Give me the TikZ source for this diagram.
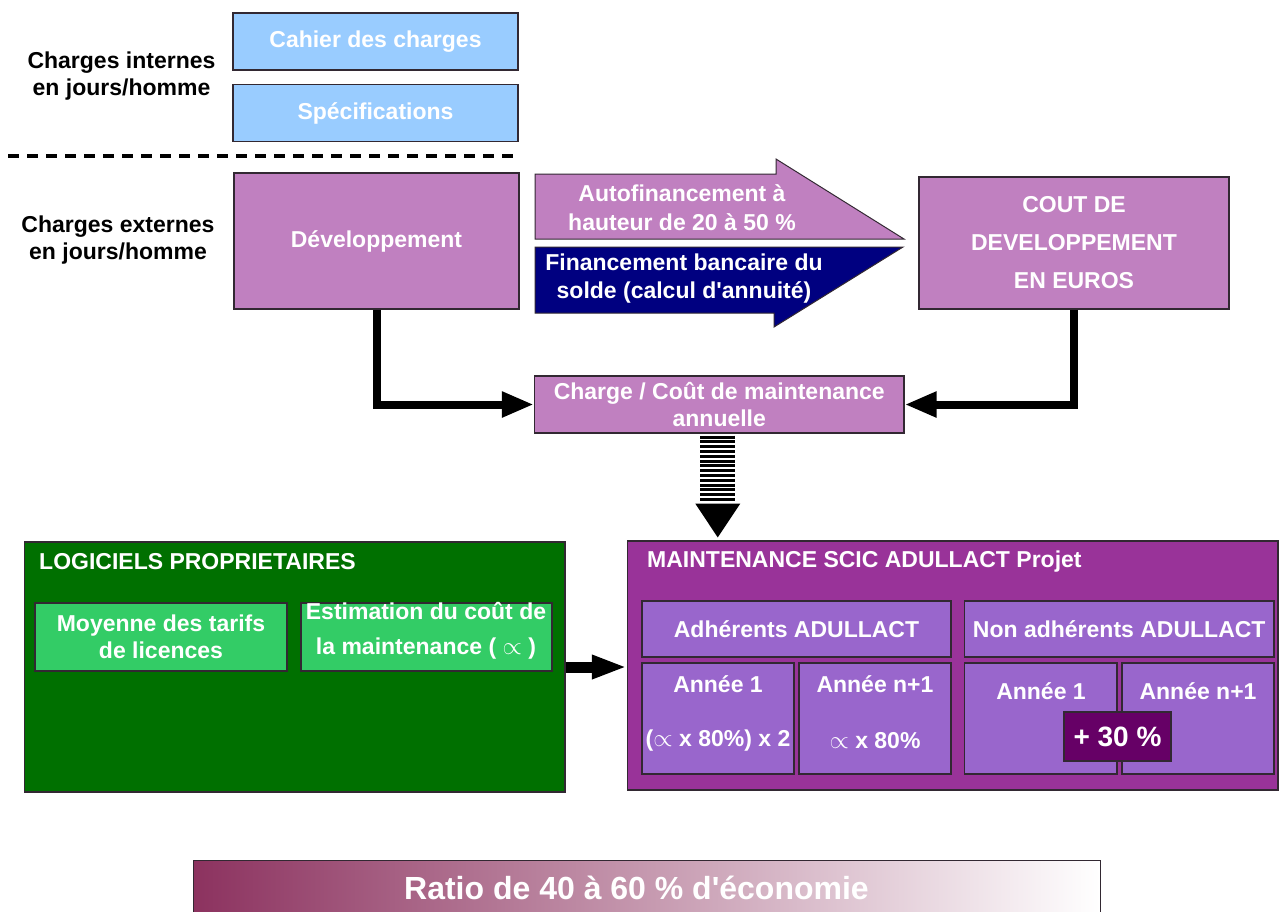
\documentclass[tikz,border=0pt]{standalone}
\usepackage{fontspec}
\setmainfont{Liberation Sans}
\usetikzlibrary{arrows.meta,calc}
\definecolor{lblue}{RGB}{153,204,255}
\definecolor{orchid}{RGB}{192,128,192}
\definecolor{navyb}{RGB}{0,0,128}
\definecolor{dgreen}{RGB}{0,112,0}
\definecolor{lgreen}{RGB}{51,204,102}
\definecolor{opurple}{RGB}{153,51,153}
\definecolor{ipurple}{RGB}{153,102,204}
\definecolor{dpurple}{RGB}{102,0,102}
\definecolor{mauve}{RGB}{140,50,95}
\definecolor{edgec}{RGB}{50,40,50}
\begin{document}
\begin{tikzpicture}[x=1pt,y=-1pt,
  bx/.style={draw=edgec, line width=1.2pt, inner sep=2pt, font=\fontsize{23}{27}\selectfont\bfseries, text=white, align=center},
  lbl/.style={font=\fontsize{23}{27}\selectfont\bfseries, text=black, align=center, inner sep=0pt},
  wtxt/.style={font=\fontsize{23}{27}\selectfont\bfseries, text=white, align=center, inner sep=0pt},
  conn/.style={line width=8pt, -{Triangle[length=32pt,width=24pt]}},
  halfarrow/.style={draw=edgec, line width=1pt}]
\useasboundingbox (0,0) rectangle (1279,911);

% top left labels
\node[lbl] (lint) at (121.5,76.5) {Charges internes\\en jours/homme};
\node[lbl] (lext) at (118,240) {Charges externes\\en jours/homme};

\node[bx, fill=lblue, minimum width=285, minimum height=57] (cahier) at (375.5,41.5) {Cahier des charges};
\node[bx, fill=lblue, minimum width=285, minimum height=57] (spec) at (375.5,113) {Spécifications};
\draw[line width=4pt, dash pattern=on 11pt off 8pt] (8,156) -- (516,156);

\node[bx, fill=orchid, minimum width=285, minimum height=136] (dev) at (376.5,241) {Développement};

% half arrows
\filldraw[halfarrow, fill=orchid] (535,174) -- (776,174) -- (776,159) -- (904,239) -- (535,239) -- cycle;
\filldraw[halfarrow, fill=navyb] (535,247) -- (903,247) -- (774,327) -- (774,313) -- (535,313) -- cycle;
\node[wtxt, font=\fontsize{23}{29}\selectfont\bfseries] (auto) at (682,207.5) {Autofinancement à\\hauteur de 20 à 50 \%};
\node[wtxt, font=\fontsize{23}{28}\selectfont\bfseries] (fin) at (684,279) {Financement bancaire du\\solde (calcul d\textquotesingle annuité)};

\node[bx, fill=orchid, minimum width=310, minimum height=132] (cout) at (1074,243) {COUT DE\\[11pt]DEVELOPPEMENT\\[11pt]EN EUROS};

\node[bx, fill=orchid, minimum width=369.5, minimum height=57] (charge) at (719.25,404.5) {Charge / Coût de maintenance\\annuelle};

\draw[conn] (dev.south) |- (charge.west);
\draw[conn] (cout.south) |- (charge.east);

% bottom left green block
\node[bx, fill=dgreen, minimum width=540.5, minimum height=250] (green) at (294.75,667) {};
\node[wtxt, anchor=west] (gtitle) at (39,562) {LOGICIELS PROPRIETAIRES};
\node[bx, fill=lgreen, minimum width=252, minimum height=68] (moy) at (161,637) {Moyenne des tarifs\\de licences};
\node[bx, fill=lgreen, minimum width=251, minimum height=68] (est) at (426.5,637) {};
\node[wtxt, font=\fontsize{23}{35}\selectfont\bfseries] (estt) at (426,630.5) {Estimation du coût de\\la maintenance ( $\propto$ )};

% purple block
\node[bx, fill=opurple, minimum width=650.5, minimum height=249] (maint) at (952.75,665.5) {};
\node[wtxt, anchor=west] (mtitle) at (647,562) {MAINTENANCE SCIC ADULLACT Projet};
\node[bx, fill=ipurple, minimum width=309, minimum height=56] (adh) at (796.5,629) {Adhérents ADULLACT};
\node[bx, fill=ipurple, minimum width=309.5, minimum height=56] (nadh) at (1119.25,629) {Non adhérents ADULLACT};
\node[bx, fill=ipurple, minimum width=152, minimum height=111] (a1) at (718,718.5) {};
\node[bx, fill=ipurple, minimum width=152, minimum height=111] (an) at (875,718.5) {};
\node[bx, fill=ipurple, minimum width=152.5, minimum height=111] (b1) at (1040.75,718.5) {};
\node[bx, fill=ipurple, minimum width=152, minimum height=111] (bn) at (1198,718.5) {};
\node[wtxt] (a1t) at (718,684) {Année 1};
\node[wtxt] (a1v) at (718,741) {($\propto$ x 80\%) x 2};
\node[wtxt] (ant) at (875,684) {Année n+1};
\node[wtxt] (anv) at (875,741) {$\propto$ x 80\%};
\node[wtxt] (b1t) at (1041,691) {Année 1};
\node[wtxt] (bnt) at (1198,691) {Année n+1};
\node[bx, fill=dpurple, minimum width=107, minimum height=49, font=\fontsize{28}{32}\selectfont\bfseries] (plus) at (1117.5,736.5) {+ 30 \%};

% green -> purple arrow
\draw[line width=11pt, -{Triangle[length=35pt,width=22pt]}] (green.east) -- (green.east -| maint.west);

% striped arrow charge -> maintenance
\draw[line width=35pt, dash pattern=on 2.9pt off 1.9pt] ([xshift=-1.5pt,yshift=-2pt]charge.south) -- ++(0,67);
\fill ($(charge.south)+(-24,70)$) -- ++(45,0) -- ($(charge.south |- maint.north)+(-1.5,-3)$) -- cycle;

% ratio bar
\node[draw=edgec, line width=1pt, left color=mauve, right color=white, text=white,
      font=\fontsize{32}{36}\selectfont\bfseries, minimum width=907, minimum height=56,
      inner sep=0pt] (ratio) at (646.5,888) {\hspace*{-20pt}Ratio de 40 à 60 \% d\textquotesingle économie};
\end{tikzpicture}
\end{document}
